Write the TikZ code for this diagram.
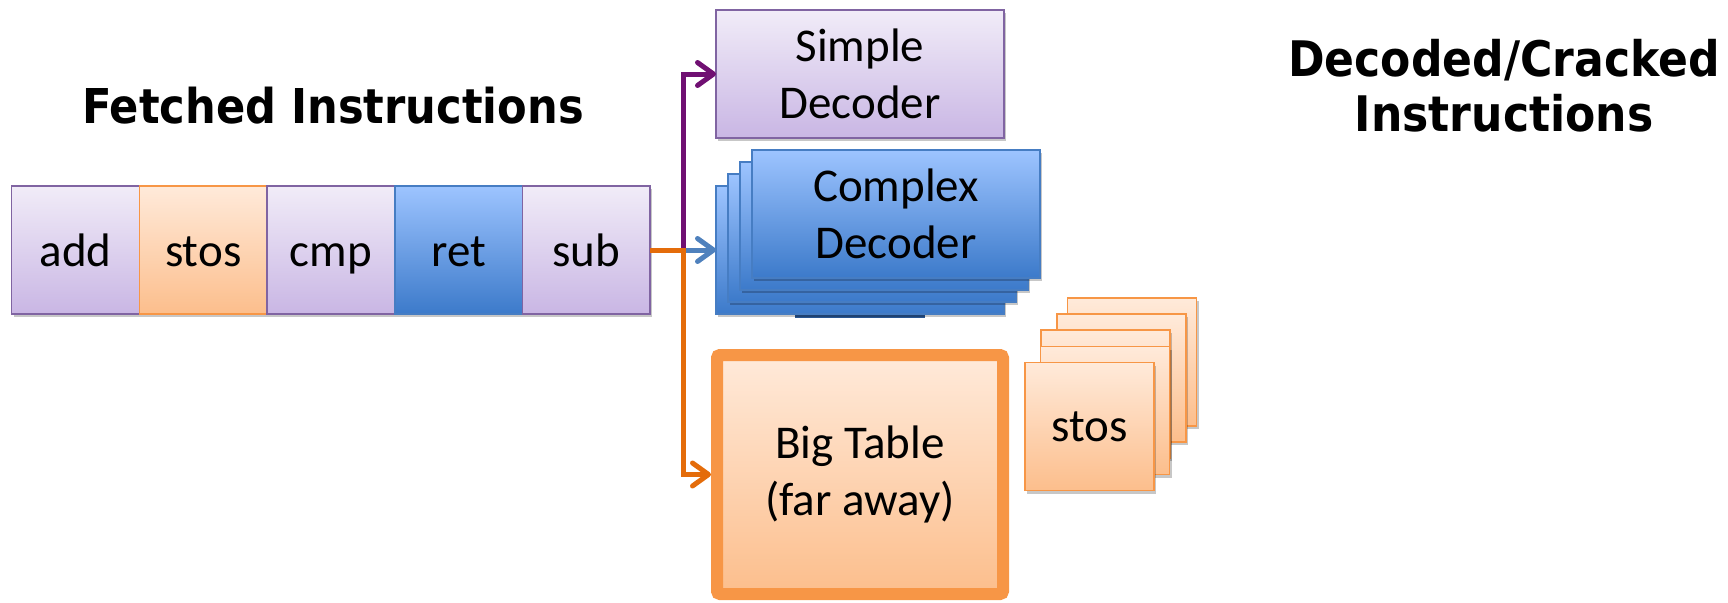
\documentclass[tikz,border=0pt]{standalone}
\usepackage{fontspec}
\setmainfont{Carlito}
\newfontfamily\headfont[FakeStretch=0.9]{DejaVu Sans}
\usetikzlibrary{arrows.meta,shadows}

\definecolor{pEdge}{RGB}{128,100,162}
\definecolor{pTop}{RGB}{241,236,248}
\definecolor{pBot}{RGB}{201,182,228}
\definecolor{oEdge}{RGB}{247,150,70}
\definecolor{oTop}{RGB}{255,234,218}
\definecolor{oBot}{RGB}{252,190,140}
\definecolor{bEdge}{RGB}{70,125,195}
\definecolor{bTop}{RGB}{157,196,255}
\definecolor{bBot}{RGB}{60,122,202}
\definecolor{bDark}{RGB}{40,85,145}
\definecolor{linkPurple}{RGB}{112,16,114}
\definecolor{linkBlue}{RGB}{79,129,189}
\definecolor{linkOrange}{RGB}{228,108,10}

\tikzset{
  softshadow/.style={drop shadow={shadow xshift=2pt,shadow yshift=-3pt,opacity=0.22,fill=black}},
  box/.style={rectangle,inner sep=0pt,outer sep=0pt,line width=1.6pt,softshadow,
    font=\fontsize{47}{57}\selectfont,align=center},
  pbox/.style={box,draw=pEdge,top color=pTop,bottom color=pBot},
  obox/.style={box,draw=oEdge,top color=oTop,bottom color=oBot},
  bbox/.style={box,draw=bEdge,top color=bTop,bottom color=bBot},
  instr/.style={minimum width=127.7pt,minimum height=128.4pt,text height=36pt,text depth=4pt},
  decbox/.style={minimum width=288pt,minimum height=128pt},
  stosbox/.style={obox,minimum width=129pt,minimum height=128pt},
  link/.style={line width=5pt,-{Straight Barb[length=16pt,width=23pt,line cap=round,line join=round]}},
  heading/.style={font=\headfont\bfseries\fontsize{#1}{55}\selectfont,inner sep=0pt,anchor=base}
}

\begin{document}
\begin{tikzpicture}[x=1pt,y=-1pt]
\useasboundingbox (0,0) rectangle (1728,602);

% headings
\node[heading=48] (fetched) at (333,123.3) {Fetched Instructions};
\node[heading=49] (decoded) at (1504,76.7) {Decoded/Cracked};
\node[heading=49] (cracked) at (1504,131.7) {Instructions};

% fetched instruction row
\node[pbox,instr] (add)  at (75.5,250) {add};
\node[obox,instr] (stos) at (203.2,250) {stos};
\node[pbox,instr] (cmp)  at (330.9,250) {cmp};
\node[bbox,instr] (ret)  at (458.6,250) {ret};
\node[pbox,instr] (sub)  at (586.3,250) {sub};

% simple decoder
\node[pbox,decbox] (simple) at (860,74) {Simple\\Decoder};

% complex decoder stack, back to front
\fill[bDark] (795,312) rectangle (925,318);
\node[bbox,decbox] (cx4) at (860,250) {};
\node[bbox,decbox] (cx3) at (872,238) {};
\node[bbox,decbox] (cx2) at (884,226) {};
\node[bbox,decbox] (cx1) at (896,214) {Complex\\Decoder};

% big table
\node[box,draw=oEdge,top color=oTop,bottom color=oBot,line width=12pt,
      rounded corners=3pt,minimum width=286pt,minimum height=239pt,outer sep=6pt]
      (big) at (860,474.5) {Big Table\\(far away)};

% cracked stos micro-ops, back to front
\node[stosbox] (s5) at (1132,362) {};
\node[stosbox] (s4) at (1121.5,378) {};
\node[stosbox] (s3) at (1105.5,394) {};
\node[stosbox] (s2) at (1105,410.5) {};
\node[stosbox] (s1) at (1089.5,426.5) {stos};

% routing from the fetch row
\coordinate (j) at (683,250);
\draw[link,linkPurple] (j) |- (simple.west);
\draw[link,linkBlue] (j) -- (cx4.west);
\draw[link,linkOrange] (sub.east) -- (j) |- (big.west);
\end{tikzpicture}
\end{document}
